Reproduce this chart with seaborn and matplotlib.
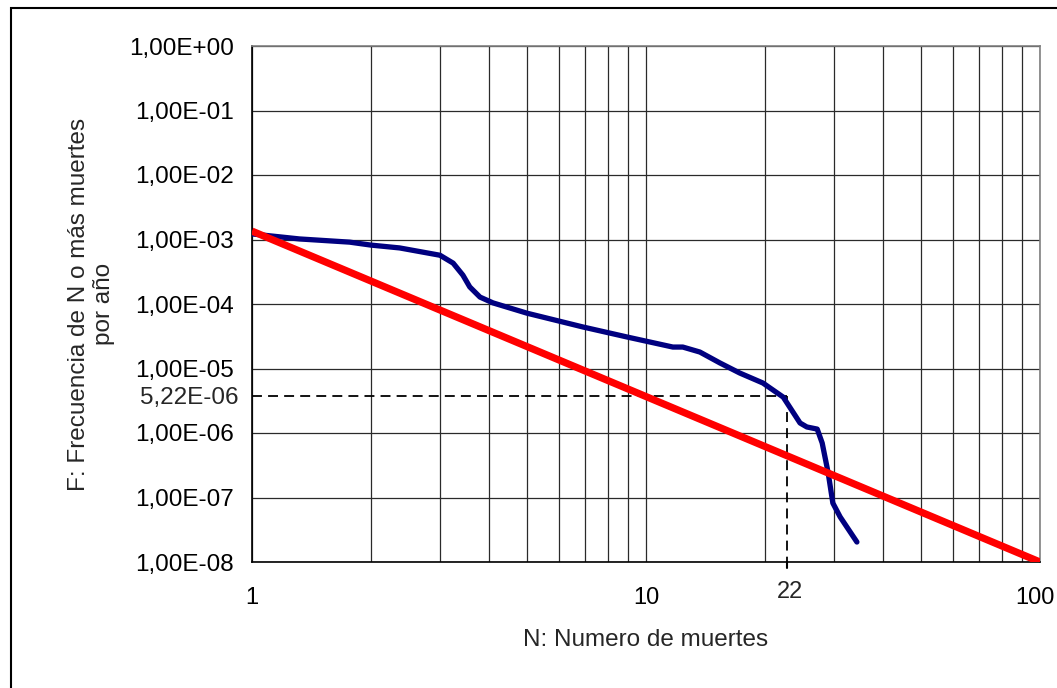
"""F-N curve: frequency of N or more deaths per year (log-log)."""

import matplotlib

matplotlib.use("Agg")

import matplotlib.pyplot as plt
import matplotlib.transforms as mtransforms
import pandas as pd
import seaborn as sns
from matplotlib.patches import Rectangle
from matplotlib.ticker import FixedFormatter, FixedLocator, LogLocator, NullFormatter

# --- data --------------------------------------------------------------------
N_CURVE = [1.0, 1.32, 1.77, 2.0, 2.37, 3.0, 3.24, 3.43, 3.57, 3.79, 4.09, 4.99,
           6.92, 8.95, 11.7, 12.4, 13.7, 15.4, 17.3, 19.8, 22.3, 24.6, 25.6,
           27.2, 28.0, 29.0, 29.8, 31.1, 34.3]
F_CURVE = [1.22e-3, 1.02e-3, 9.1e-4, 8.2e-4, 7.4e-4, 5.7e-4, 4.3e-4, 2.8e-4,
           1.84e-4, 1.28e-4, 1.04e-4, 7.2e-5, 4.4e-5, 3.08e-5, 2.15e-5, 2.15e-5,
           1.8e-5, 1.22e-5, 8.5e-6, 5.96e-6, 3.6e-6, 1.43e-6, 1.24e-6, 1.15e-6,
           7.0e-7, 2.4e-7, 8.2e-8, 5.0e-8, 2.04e-8]

N_LINE = [1.0, 100.0]
F_LINE = [1.35e-3, 1.0e-8]

MARK_N = 22.8
MARK_F = 3.75e-6
MARK_N_LABEL = "22"
MARK_F_LABEL = "5,22E-06"

X_TICKS = [1, 10, 100]
X_TICK_LABELS = ["1", "10", "100"]
Y_TICKS = [1e0, 1e-1, 1e-2, 1e-3, 1e-4, 1e-5, 1e-6, 1e-7, 1e-8]
Y_TICK_LABELS = ["1,00E+00", "1,00E-01", "1,00E-02", "1,00E-03", "1,00E-04",
                 "1,00E-05", "1,00E-06", "1,00E-07", "1,00E-08"]

X_LABEL = "N: Numero de muertes"
Y_LABEL = "F: Frecuencia de N o más muertes\npor año"

# --- style --------------------------------------------------------------------
sns.set_style("white")
plt.rcParams["font.family"] = ["Liberation Sans", "DejaVu Sans"]
FONT_SIZE = 17.5

W, H = 1057, 688
fig = plt.figure(figsize=(W / 100, H / 100), dpi=100)
ax = fig.add_axes([252 / W, 1 - 562 / H, 788 / W, 516 / H])

curve = pd.DataFrame({"N": N_CURVE, "F": F_CURVE})
line = pd.DataFrame({"N": N_LINE, "F": F_LINE})

ax.set_xscale("log")
ax.set_yscale("log")

# dashed guide lines to the marked point
ax.plot([N_LINE[0], MARK_N], [MARK_F, MARK_F], color="black", lw=1.3,
        dashes=(5.5, 3.4), zorder=3)
ax.plot([MARK_N, MARK_N], [MARK_F, 1e-8], color="black", lw=1.3,
        dashes=(5.5, 3.4), zorder=3)

sns.lineplot(data=curve, x="N", y="F", ax=ax, color="#000080", lw=3.8,
             sort=False, estimator=None, zorder=4)
sns.lineplot(data=line, x="N", y="F", ax=ax, color="#ff0000", lw=5.2,
             sort=False, estimator=None, zorder=5, solid_capstyle="butt")

ax.set_xlim(1, 100)
ax.set_ylim(1e-8, 1)

# x axis: labelled decades, unlabelled minor grid
ax.xaxis.set_major_locator(FixedLocator(X_TICKS))
ax.xaxis.set_major_formatter(FixedFormatter(X_TICK_LABELS))
ax.xaxis.set_minor_locator(LogLocator(base=10, subs=range(2, 10)))
ax.xaxis.set_minor_formatter(NullFormatter())

# y axis: decades + the marked frequency as a minor tick
ax.yaxis.set_major_locator(FixedLocator(Y_TICKS))
ax.yaxis.set_major_formatter(FixedFormatter(Y_TICK_LABELS))
ax.yaxis.set_minor_locator(FixedLocator([MARK_F]))
ax.yaxis.set_minor_formatter(FixedFormatter([MARK_F_LABEL]))

ax.tick_params(axis="both", which="major", direction="out", length=5.8,
               width=1, colors="black", labelsize=FONT_SIZE)
ax.tick_params(axis="both", which="major", color="#555555")
ax.tick_params(axis="x", which="major", pad=12, labelsize=17)
ax.tick_params(axis="y", which="major", pad=7.5)
ax.tick_params(axis="x", which="minor", length=0)
ax.tick_params(axis="y", which="minor", direction="out", length=6.5, width=1.2,
               color="black", labelsize=FONT_SIZE, pad=3.2)

# keep the right-most x label inside the figure, as in the reference
last = ax.get_xticklabels()[-1]
last.set_transform(last.get_transform()
                   + mtransforms.ScaledTranslation(-5 / 100, 0, fig.dpi_scale_trans))

ax.grid(which="both", axis="x", color="#2a2a2a", lw=0.9)
ax.grid(which="major", axis="y", color="#2a2a2a", lw=0.9)
ax.set_axisbelow(True)

trans = mtransforms.blended_transform_factory(ax.transData, ax.transAxes)
ax.plot([MARK_N, MARK_N], [0, -0.012], color="black", lw=1.5, transform=trans,
        clip_on=False)
ax.text(MARK_N * 1.02, -0.058, MARK_N_LABEL, transform=trans, ha="center",
        va="center", fontsize=17)

ax.set_xlabel(X_LABEL, fontsize=FONT_SIZE)
ax.set_ylabel(Y_LABEL, fontsize=FONT_SIZE, linespacing=1.15)
ax.xaxis.set_label_coords(0.5, -0.130)
ax.yaxis.set_label_coords(-0.174, 0.5)

for side in ("left", "bottom"):
    ax.spines[side].set_color("black")
    ax.spines[side].set_linewidth(1.2)
for side in ("top", "right"):
    ax.spines[side].set_color("#808080")
    ax.spines[side].set_linewidth(1.2)

# outer chart-area border (runs off the right and bottom edge)
fig.add_artist(Rectangle((11 / W, -0.05), 2.0, 1 - 8 / H + 0.05, fill=False,
                         lw=1.5, edgecolor="black", transform=fig.transFigure))

fig.savefig("out.png", dpi=100, facecolor="white")
